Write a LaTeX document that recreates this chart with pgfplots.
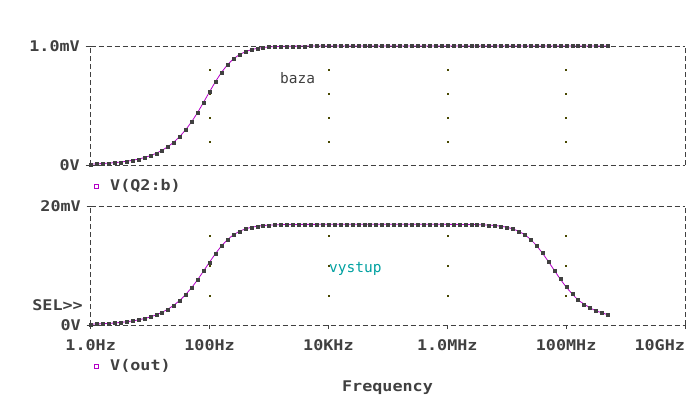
\documentclass[border=0pt]{standalone}
\usepackage{pgfplots}
\pgfplotsset{compat=1.18}
\usepackage{pgfplotstable}
\usepackage{fontspec}
\newfontfamily\psfont[FakeStretch=1.14]{DejaVu Sans Mono}
\newfontfamily\psthin{DejaVu Sans Mono}
\newcommand\psb{\psfont\bfseries\fontsize{14.7bp}{16bp}\selectfont}
\newcommand\pst{\psthin\fontsize{14.5bp}{16bp}\selectfont}
\definecolor{txtc}{RGB}{64,64,64}
\definecolor{linec}{RGB}{180,0,200}
\definecolor{mkc}{RGB}{64,64,64}
\definecolor{gridc}{RGB}{72,72,0}
\definecolor{tealc}{RGB}{0,160,160}

\pgfplotstableread{
f baza vystup
1e0 0.0078 0.135
1.259e0 0.0098 0.170
1.585e0 0.0124 0.214
1.995e0 0.0156 0.270
2.512e0 0.0196 0.340
3.162e0 0.0247 0.428
3.981e0 0.0311 0.539
5.012e0 0.0391 0.678
6.310e0 0.0492 0.853
7.943e0 0.0619 1.073
1e1 0.0779 1.349
1.259e1 0.0979 1.695
1.585e1 0.1229 2.129
1.995e1 0.1540 2.667
2.512e1 0.1925 3.333
3.162e1 0.2398 4.149
3.981e1 0.2970 5.134
5.012e1 0.3645 6.298
6.310e1 0.4421 7.622
7.943e1 0.5274 9.076
1e2 0.6156 10.570
1.259e2 0.7012 12.006
1.585e2 0.7780 13.286
1.995e2 0.8417 14.338
2.512e2 0.8910 15.148
3.162e2 0.9269 15.736
3.981e2 0.9520 16.143
5.012e2 0.9689 16.417
6.310e2 0.9800 16.597
7.943e2 0.9873 16.714
1e3 0.9919 16.790
1.259e3 0.9949 16.837
1.585e3 0.9967 16.868
1.995e3 0.9979 16.886
2.512e3 0.9987 16.900
3.162e3 0.9992 16.906
3.981e3 0.9995 16.912
5.012e3 0.9997 16.915
6.310e3 0.9998 16.917
7.943e3 0.9999 16.918
1e4 1.0 16.92
1.259e4 1.0 16.92
1.585e4 1.0 16.92
1.995e4 1.0 16.92
2.512e4 1.0 16.92
3.162e4 1.0 16.92
3.981e4 1.0 16.92
5.012e4 1.0 16.92
6.310e4 1.0 16.92
7.943e4 1.0 16.92
1e5 1.0 16.92
1.259e5 1.0 16.92
1.585e5 1.0 16.92
1.995e5 1.0 16.92
2.512e5 1.0 16.92
3.162e5 1.0 16.92
3.981e5 1.0 16.92
5.012e5 1.0 16.92
6.310e5 1.0 16.92
7.943e5 1.0 16.92
1e6 1.0 16.915
1.259e6 1.0 16.912
1.585e6 1.0 16.906
1.995e6 1.0 16.900
2.512e6 1.0 16.888
3.162e6 1.0 16.869
3.981e6 1.0 16.840
5.012e6 1.0 16.793
6.310e6 1.0 16.720
7.943e6 1.0 16.609
1e7 1.0 16.433
1.259e7 1.0 16.167
1.585e7 1.0 15.771
1.995e7 1.0 15.201
2.512e7 1.0 14.409
3.162e7 1.0 13.374
3.981e7 1.0 12.110
5.012e7 1.0 10.682
6.310e7 1.0 9.188
7.943e7 1.0 7.731
1e8 1.0 6.392
1.259e8 1.0 5.24
1.585e8 1.0 4.20
1.995e8 1.0 3.52
2.512e8 1.0 2.90
3.162e8 1.0 2.38
3.981e8 1.0 2.06
5.012e8 1.0 1.72
}\datatab

\begin{document}
\begin{tikzpicture}
\useasboundingbox (0,0) rectangle (691bp,-396bp);
% top axis
\begin{axis}[
  scale only axis, width=594.3bp, height=119bp,
  xmode=log, xmin=1, xmax=1e10, clip=false,
  separate axis lines,
  axis line style={draw=txtc, line width=0.9bp, dash pattern=on 5bp off 3bp},
  tick style={draw=txtc, line width=0.9bp, solid},
  minor tick style={draw=none},
  tick align=outside, major tick length=5bp,
  ticklabel style={font=\psb, text=txtc, inner sep=0pt},
  ytick pos=left, xtick pos=bottom,
  yticklabel style={anchor=east, xshift=-5.7bp},
  at={(90.7bp,-165bp)}, anchor=south west,
  ymin=0, ymax=1, xtick=\empty, ytick={0,1}, yticklabels={0V,1.0mV}]
\addplot[only marks, mark=square*, mark size=0.5bp, color=gridc] coordinates {
(1e2,0.2)(1e2,0.4)(1e2,0.6)(1e2,0.8)
(1e4,0.2)(1e4,0.4)(1e4,0.6)(1e4,0.8)
(1e6,0.2)(1e6,0.4)(1e6,0.6)(1e6,0.8)
(1e8,0.2)(1e8,0.4)(1e8,0.6)(1e8,0.8)};
\addplot[draw=linec, line width=0.8bp, mark=square*, mark size=1.5bp,
  mark options={solid, draw=mkc, fill=mkc, line width=0.1bp}] table[x=f, y=baza] {\datatab};
\end{axis}
% bottom axis
\begin{axis}[
  scale only axis, width=594.3bp, height=119bp,
  xmode=log, xmin=1, xmax=1e10, clip=false,
  separate axis lines,
  axis line style={draw=txtc, line width=0.9bp, dash pattern=on 5bp off 3bp},
  tick style={draw=txtc, line width=0.9bp, solid},
  minor tick style={draw=none},
  tick align=outside, major tick length=4bp,
  ticklabel style={font=\psb, text=txtc, inner sep=0pt},
  ytick pos=left, xtick pos=bottom,
  yticklabel style={anchor=east, xshift=-5.7bp},
  at={(90.7bp,-325bp)}, anchor=south west,
  ymin=0, ymax=20, ytick={0,20}, yticklabels={0V,20mV},
  xtick={1,1e2,1e4,1e6,1e8,1e10},
  xticklabels={1.0Hz,100Hz,10KHz,1.0MHz,100MHz,\llap{10GHz}},
  xticklabel style={anchor=north, yshift=-10.5bp}]
\addplot[only marks, mark=square*, mark size=0.5bp, color=gridc] coordinates {
(1e2,5)(1e2,10)(1e2,15)
(1e4,5)(1e4,10)(1e4,15)
(1e6,5)(1e6,10)(1e6,15)
(1e8,5)(1e8,10)(1e8,15)};
\addplot[draw=linec, line width=0.8bp, mark=square*, mark size=1.5bp,
  mark options={solid, draw=mkc, fill=mkc, line width=0.1bp}] table[x=f, y=vystup] {\datatab};
\end{axis}
% texts
\node[anchor=base west, font=\pst, text=txtc, inner sep=0pt] at (280bp,-83.3bp) {baza};
\node[anchor=base west, font=\pst, text=tealc, inner sep=0pt] at (329bp,-272bp) {vystup};
\node[anchor=base east, font=\psb, text=txtc, inner sep=0pt] at (83bp,-310.7bp) {SEL>>};
\node[anchor=base, font=\psb, text=txtc, inner sep=0pt] at (387.5bp,-391bp) {Frequency};
\draw[draw=linec, line width=0.8bp] (94.5bp,-184bp) rectangle (98.7bp,-188.3bp);
\node[anchor=base west, font=\psb, text=txtc, inner sep=0pt] at (110bp,-190.7bp) {V(Q2:b)};
\draw[draw=linec, line width=0.8bp] (94.5bp,-364bp) rectangle (98.7bp,-368.5bp);
\node[anchor=base west, font=\psb, text=txtc, inner sep=0pt] at (110bp,-370.7bp) {V(out)};
\end{tikzpicture}
\end{document}
